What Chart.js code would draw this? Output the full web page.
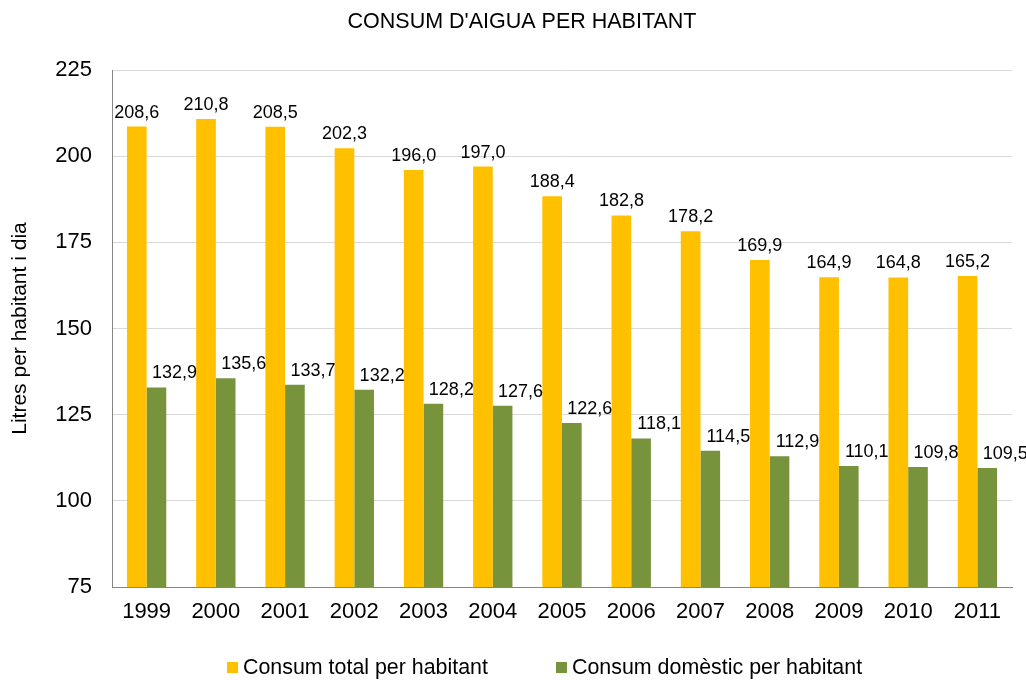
<!DOCTYPE html>
<html>
<head>
<meta charset="utf-8">
<title>Consum d'aigua per habitant</title>
<script src="https://cdn.jsdelivr.net/npm/chart.js@4"></script>
<style>
  html, body { margin: 0; padding: 0; background: #fff; }
  #wrap { width: 1026px; height: 680px; position: relative; }
</style>
</head>
<body>
<div id="wrap"><canvas id="chart"></canvas></div>
<script>
(() => {
  'use strict';

  const years = ['1999', '2000', '2001', '2002', '2003', '2004', '2005',
                 '2006', '2007', '2008', '2009', '2010', '2011'];
  const consumTotal = [208.6, 210.8, 208.5, 202.3, 196.0, 197.0, 188.4,
                       182.8, 178.2, 169.9, 164.9, 164.8, 165.2];
  const consumDomestic = [132.9, 135.6, 133.7, 132.2, 128.2, 127.6, 122.6,
                          118.1, 114.5, 112.9, 110.1, 109.8, 109.5];
  const seriesNames = ['Consum total per habitant', 'Consum domèstic per habitant'];
  const yTicks = [75, 100, 125, 150, 175, 200, 225];

  const FONT = "'Liberation Sans', Arial, sans-serif";
  const ORANGE = '#FFC000';
  const GREEN = '#77933C';

  const fmt = (v) => v.toFixed(1).replace('.', ',');

  // value labels above each bar (green ones sit a bit to the right, like the original)
  const valueLabels = {
    id: 'valueLabels',
    afterDatasetsDraw(chart) {
      const ctx = chart.ctx;
      ctx.save();
      ctx.font = '18px ' + FONT;
      ctx.fillStyle = '#000';
      ctx.textAlign = 'center';
      ctx.textBaseline = 'alphabetic';
      chart.data.datasets.forEach((ds, i) => {
        const meta = chart.getDatasetMeta(i);
        const dx = i === 0 ? 0 : 18;
        meta.data.forEach((bar, j) => {
          ctx.fillText(fmt(ds.data[j]), bar.x + dx, bar.y - 9);
        });
      });
      ctx.restore();
    }
  };

  // title + legend drawn by hand to match the spreadsheet layout
  const decorations = {
    id: 'decorations',
    afterDraw(chart) {
      const ctx = chart.ctx;
      ctx.save();
      ctx.fillStyle = '#000';
      ctx.font = '21.5px ' + FONT;
      ctx.textAlign = 'center';
      ctx.textBaseline = 'middle';
      ctx.fillText("CONSUM D'AIGUA PER HABITANT", 522, 22);

      ctx.font = '21.4px ' + FONT;
      ctx.textAlign = 'left';
      const y = 668;
      const items = [[227, 0], [556, 1]];
      items.forEach(([x, i]) => {
        ctx.fillStyle = chart.data.datasets[i].backgroundColor;
        ctx.fillRect(x, y - 6, 11, 11);
        ctx.fillStyle = '#000';
        ctx.fillText(seriesNames[i], x + 16, y);
      });
      ctx.restore();
    }
  };

  new Chart(document.getElementById('chart'), {
    type: 'bar',
    data: {
      labels: years,
      datasets: [
        { label: seriesNames[0], data: consumTotal, backgroundColor: ORANGE,
          categoryPercentage: 0.568, barPercentage: 1.0 },
        { label: seriesNames[1], data: consumDomestic, backgroundColor: GREEN,
          categoryPercentage: 0.568, barPercentage: 1.0 },
      ],
    },
    options: {
      responsive: true,
      maintainAspectRatio: false,
      animation: false,
      layout: { padding: { top: 70, right: 14, left: 0, bottom: 0 } },
      plugins: {
        legend: { display: false },
        title: { display: false },
        tooltip: { enabled: false },
      },
      scales: {
        x: {
          grid: { display: false, drawTicks: false },
          border: { color: '#868686', width: 1 },
          ticks: { color: '#000', font: { family: FONT, size: 22 }, padding: 12 },
          afterFit(scale) { scale.height = 93; },
        },
        y: {
          min: 75,
          max: 225,
          afterBuildTicks(scale) { scale.ticks = yTicks.map(v => ({ value: v })); },
          grid: { color: '#D9D9D9', drawTicks: false },
          border: { color: '#868686', width: 1 },
          ticks: { color: '#000', font: { family: FONT, size: 22 }, padding: 20 },
          title: {
            display: true,
            text: 'Litres per habitant i dia',
            color: '#000',
            font: { family: FONT, size: 21 },
            padding: { top: 8, bottom: 0 },
          },
          afterFit(scale) { scale.width = 112; },
        },
      },
    },
    plugins: [valueLabels, decorations],
  });
})();
</script>
</body>
</html>
